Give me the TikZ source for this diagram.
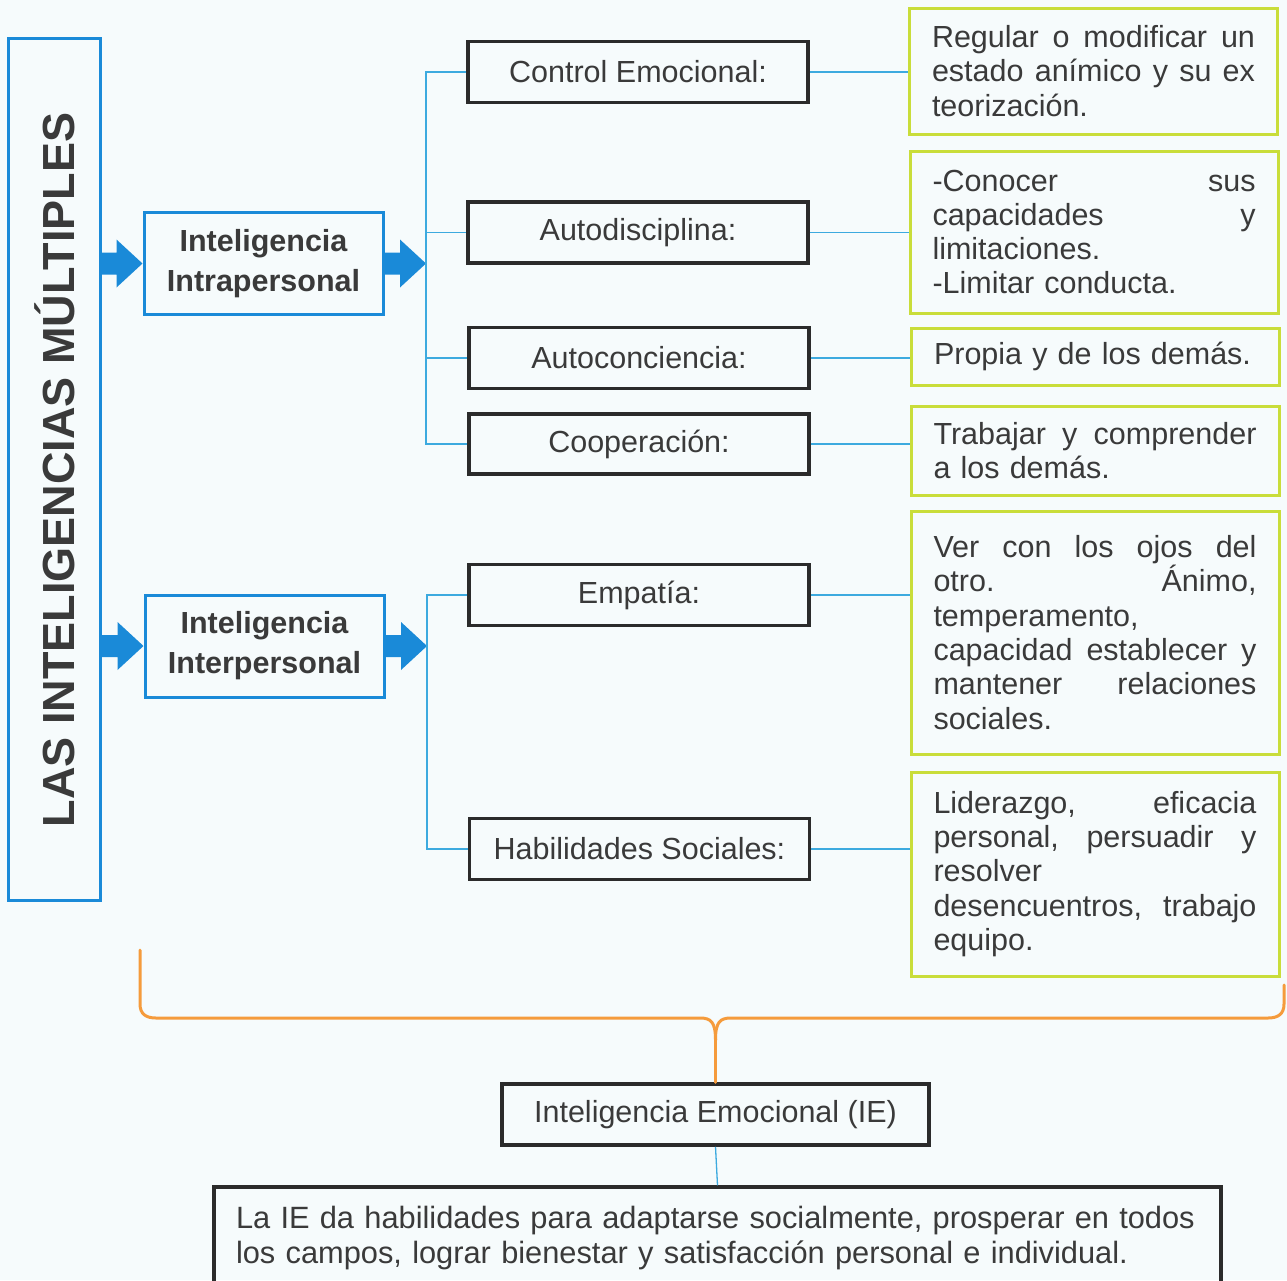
\documentclass[tikz,border=0pt]{standalone}
\usepackage{fontspec}
\setmainfont{Liberation Sans}
\usetikzlibrary{calc}

\definecolor{bgc}{HTML}{F6FBFC}
\definecolor{ink}{HTML}{3A3A3A}
\definecolor{mainblue}{HTML}{1A8AD8}
\definecolor{linkblue}{HTML}{3DAADF}
\definecolor{leaf}{HTML}{C9DD3A}
\definecolor{boxdark}{HTML}{2B2B2B}
\definecolor{bracec}{HTML}{F59B3C}

% width of the justified text inside the description boxes
\newlength\gtw \setlength\gtw{323pt}
% a full-width line; words are spread with \wsp
\newcommand\jl[1]{\makebox[\gtw][l]{#1}}
\newcommand\wsp{\hfill}

% thick block arrow from #1 to #2 (tip at #2)
\newcommand\bigarrow[2]{%
  \fill[mainblue] let \p1=(#1), \p2=(#2) in
    (\x1,\y1+11pt) -- (\x2-26pt,\y1+11pt) -- (\x2-26pt,\y1+24pt) -- (\x2,\y1)
    -- (\x2-26pt,\y1-24pt) -- (\x2-26pt,\y1-11pt) -- (\x1,\y1-11pt) -- cycle;}

\begin{document}
\begin{tikzpicture}[x=1pt,y=-1pt,
  txt/.style={font=\fontsize{30.5}{34.3}\selectfont, text=ink},
  groupbox/.style={txt, font=\fontsize{30.5}{40}\selectfont\bfseries, draw=mainblue,
    line width=3pt, inner sep=0pt, minimum width=239pt, minimum height=102pt, align=center},
  topic/.style={txt, draw=boxdark, line width=3.5pt, minimum width=340pt,
    minimum height=61pt, inner sep=0pt},
  leafbox/.style={txt, draw=leaf, line width=3pt, minimum width=368pt,
    inner sep=0pt, text width=\gtw, align=left},
  conn/.style={draw=linkblue, line width=1.3pt},
  brace/.style={draw=bracec, line width=3pt, line cap=round, line join=round}
]
\useasboundingbox (0,0) rectangle (1287,1280);
\fill[bgc] (0,0) rectangle (1287,1280);

% title column
\node[draw=mainblue, line width=3pt, minimum width=92pt, minimum height=862pt, inner sep=0pt]
  (title) at (54,469) {};
\node[rotate=90, font=\fontsize{45}{50}\selectfont\bfseries, text=ink]
  (titletext) at (55,470) {LAS INTELIGENCIAS MÚLTIPLES};

% the two groups
\node[groupbox] (intra) at (263.5,263.5) {Inteligencia\\Intrapersonal};
\node[groupbox] (inter) at (264.5,646) {Inteligencia\\Interpersonal};

\coordinate (bus1) at (426,0);
\coordinate (bus2) at (427,0);

% components
\node[topic] (ctrl)  at (638,72)    {Control Emocional:};
\node[topic] (autod) at (638,232.5) {Autodisciplina:};
\node[topic] (autoc) at (639,358)   {Autoconciencia:};
\node[topic, minimum height=60pt] (coop) at (639,444) {Cooperación:};
\node[topic] (emp)   at (639,595)   {Empatía:};
\node[topic] (hab)   at (639.5,849) {Habilidades Sociales:};

% descriptions
\node[leafbox, minimum height=126pt] (g1) at (1093.5,71) {%
  \jl{Regular\wsp o\wsp modificar\wsp un}\\
  \jl{estado\wsp anímico\wsp y\wsp su\wsp ex}\\
  teorización.};
\node[leafbox, minimum height=162pt] (g2) at (1094,232) {%
  \jl{-Conocer\wsp sus}\\
  \jl{capacidades\wsp y}\\
  limitaciones.\\
  -Limitar conducta.};
\node[leafbox, minimum height=57pt] (g3) at (1095.5,356.5) {Propia y de los demás.};
\node[leafbox, minimum height=89pt] (g4) at (1095,450.5) {%
  \jl{Trabajar\wsp y\wsp comprender}\\
  a los demás.};
\node[leafbox, minimum height=243pt] (g5) at (1095,632.5) {%
  \jl{Ver\wsp con\wsp los\wsp ojos\wsp del}\\
  \jl{otro.\wsp Ánimo,}\\
  temperamento,\\
  \jl{capacidad\wsp establecer\wsp y}\\
  \jl{mantener\wsp relaciones}\\
  sociales.};
\node[leafbox, minimum height=204pt] (g6) at (1095,874) {%
  \jl{Liderazgo,\wsp eficacia}\\
  \jl{personal,\wsp persuadir\wsp y}\\
  resolver\\
  \jl{desencuentros,\wsp trabajo}\\
  equipo.};

% bottom synthesis
\node[topic, minimum width=427pt] (ie) at (715.5,1114.5) {Inteligencia Emocional (IE)};
\node[txt, font=\fontsize{30.8}{34.3}\selectfont, draw=boxdark, line width=3.5pt,
  minimum width=1007pt, minimum height=102pt, inner sep=0pt, text width=963pt,
  align=left] (sum) at (717.5,1238)
  {La IE da habilidades para adaptarse socialmente, prosperar en todos\\
   los campos, lograr bienestar y satisfacción personal e individual.};

% block arrows
\bigarrow{title.east |- intra.west}{intra.west}
\bigarrow{intra.east}{bus1 |- intra.east}
\bigarrow{title.east |- inter.west}{inter.west}
\bigarrow{inter.east}{bus2 |- inter.east}

% first group tree
\draw[conn] (ctrl.west) -- (ctrl.west -| bus1) -- (coop.west -| bus1) -- (coop.west);
\draw[conn] (autod.west -| bus1) -- (autod.west);
\draw[conn] (autoc.west -| bus1) -- (autoc.west);
% second group tree
\draw[conn] (emp.west) -- (emp.west -| bus2) -- (hab.west -| bus2) -- (hab.west);

% components to descriptions
\draw[conn] (ctrl.east)  -- (ctrl.east -| g1.west);
\draw[conn] (autod.east) -- (autod.east -| g2.west);
\draw[conn] (autoc.east) -- (autoc.east -| g3.west);
\draw[conn] (coop.east)  -- (coop.east -| g4.west);
\draw[conn] (emp.east)   -- (emp.east -| g5.west);
\draw[conn] (hab.east)   -- (hab.east -| g6.west);

% brace gathering everything into IE
\coordinate (cusp) at (715.5,1040);
\draw[brace] (140,950) -- (140,1004) .. controls (140,1014) and (146,1018) .. (156,1018)
  -- (700,1018) .. controls (711,1018) and (715.5,1022) .. (cusp);
\draw[brace] (1284,985) -- (1284,1004) .. controls (1284,1014) and (1278,1018) .. (1268,1018)
  -- (731,1018) .. controls (720,1018) and (715.5,1022) .. (cusp);
\draw[brace] (cusp) -- (ie.north);

\draw[conn] (ie.south) -- (sum.north);
\end{tikzpicture}
\end{document}
